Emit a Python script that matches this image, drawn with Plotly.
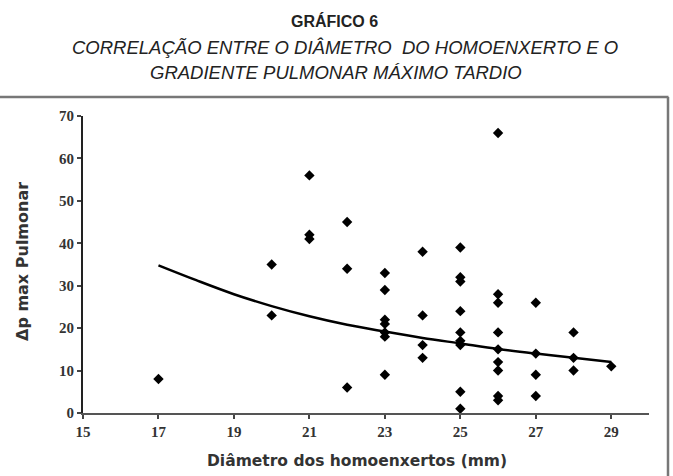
import plotly.graph_objects as go

# Scatter data: diameter of homograft (mm) vs late max pulmonary gradient
diametro = [17, 20, 20, 21, 21, 21, 22, 22, 22,
            23, 23, 23, 23, 23, 23, 23,
            24, 24, 24, 24,
            25, 25, 25, 25, 25, 25, 25, 25, 25,
            26, 26, 26, 26, 26, 26, 26, 26, 26,
            27, 27, 27, 27,
            28, 28, 28,
            29]
gradiente = [8, 35, 23, 56, 42, 41, 45, 34, 6,
             33, 29, 22, 21, 19, 18, 9,
             38, 23, 16, 13,
             39, 32, 31, 24, 19, 17, 16, 5, 1,
             66, 28, 26, 19, 15, 12, 10, 4, 3,
             26, 14, 9, 4,
             19, 13, 10,
             11]

# Trend curve values
tend_x = [17, 18, 19, 20, 21, 22, 23, 24, 25, 26, 27, 28, 29]
tend_y = [34.8, 31.3, 28.0, 25.2, 22.8, 20.8, 19.2, 17.7, 16.4, 15.1, 14.0, 13.0, 12.0]

x_ticks = [15, 17, 19, 21, 23, 25, 27, 29]
y_ticks = [0, 10, 20, 30, 40, 50, 60, 70]

fig = go.Figure()
fig.add_trace(go.Scatter(x=tend_x, y=tend_y, mode="lines",
                         line=dict(color="black", width=2.5, shape="spline"),
                         showlegend=False, hoverinfo="skip"))
fig.add_trace(go.Scatter(x=diametro, y=gradiente, mode="markers",
                         marker=dict(symbol="diamond", size=8, color="black"),
                         showlegend=False))

tickfont = dict(family="Liberation Serif", size=15, color="#333333", weight="bold")
fig.update_xaxes(range=[15, 30], tickvals=x_ticks, ticktext=[str(v) for v in x_ticks],
                 showgrid=False, zeroline=False, showline=True, linecolor="#555",
                 linewidth=2, ticks="outside", ticklen=4, tickwidth=1.5, tickcolor="#444",
                 tickfont=tickfont)
fig.update_yaxes(range=[0, 70], tickvals=y_ticks, showgrid=False, zeroline=False,
                 showline=True, linecolor="#222", linewidth=2, ticks="outside",
                 ticklen=4, tickwidth=1.5, tickcolor="#444", tickfont=tickfont)

W, H = 673, 476
ml, mr, mt, mb = 83, 24, 116, 63
pw, ph = W - ml - mr, H - mt - mb
def px(x):
    return (x - ml) / pw
def py(y):
    return (H - mb - y) / ph

shapes = [
    dict(type="line", xref="paper", yref="paper", x0=px(0), x1=px(668.5), y0=py(97), y1=py(97),
         line=dict(color="#777", width=2.5)),
    dict(type="line", xref="paper", yref="paper", x0=px(668), x1=px(668), y0=py(97), y1=py(476),
         line=dict(color="#777", width=2.5)),
]

annotations = [
    dict(text="<b>GRÁFICO 6</b>", x=px(334), y=py(21), xref="paper", yref="paper",
         showarrow=False, font=dict(family="Liberation Sans", size=16, color="#222"),
         xanchor="center", yanchor="middle"),
    dict(text="<i>CORRELAÇÃO ENTRE O DIÂMETRO  DO HOMOENXERTO E O</i>", x=px(345), y=py(48),
         xref="paper", yref="paper", showarrow=False,
         font=dict(family="Liberation Sans", size=18.5, color="#222"),
         xanchor="center", yanchor="middle"),
    dict(text="<i>GRADIENTE PULMONAR MÁXIMO TARDIO</i>", x=px(336), y=py(72),
         xref="paper", yref="paper", showarrow=False,
         font=dict(family="Liberation Sans", size=18.5, color="#222"),
         xanchor="center", yanchor="middle"),
    dict(text="<b>Δp max Pulmonar</b>", x=px(22), y=py(262), xref="paper", yref="paper",
         showarrow=False, textangle=-90,
         font=dict(family="DejaVu Sans", size=16, color="#333"),
         xanchor="center", yanchor="middle"),
    dict(text="<b>Diâmetro dos homoenxertos (mm)</b>", x=px(357), y=py(461),
         xref="paper", yref="paper", showarrow=False,
         font=dict(family="DejaVu Sans", size=15.5, color="#333"),
         xanchor="center", yanchor="middle"),
]

fig.update_layout(width=W, height=H, margin=dict(l=ml, r=mr, t=mt, b=mb),
                  plot_bgcolor="white", paper_bgcolor="white",
                  shapes=shapes, annotations=annotations)

fig.write_html("out.html")
